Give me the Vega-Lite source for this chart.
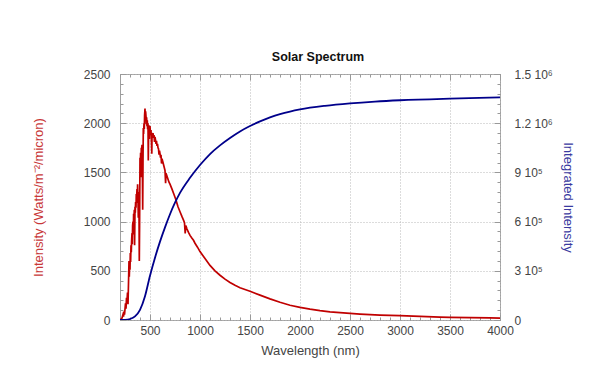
{
  "$schema": "https://vega.github.io/schema/vega-lite/v6.json",
  "autosize": {"type": "none"},
  "padding": {"left": 120, "top": 74, "right": 100, "bottom": 50},
  "width": 380,
  "height": 246,
  "background": "white",
  "title": {"text": "Solar Spectrum", "font": "Liberation Sans", "fontSize": 12.5, "fontWeight": "bold", "color": "#111111", "baseline": "bottom", "offset": -8, "dx": 8},
  "datasets": {
    "red": [
      {"nm":200,"intensity":0},{"nm":210,"intensity":8},{"nm":220,"intensity":20},{"nm":230,"intensity":55},{"nm":235,"intensity":35},{"nm":240,"intensity":85},{"nm":245,"intensity":55},{"nm":250,"intensity":110},{"nm":255,"intensity":170},{"nm":260,"intensity":115},{"nm":265,"intensity":225},{"nm":270,"intensity":190},{"nm":275,"intensity":280},{"nm":280,"intensity":160},{"nm":285,"intensity":370},{"nm":290,"intensity":600},{"nm":293,"intensity":440},{"nm":296,"intensity":560},{"nm":300,"intensity":510},{"nm":303,"intensity":680},{"nm":306,"intensity":590},{"nm":310,"intensity":760},{"nm":313,"intensity":690},{"nm":316,"intensity":800},{"nm":320,"intensity":880},{"nm":323,"intensity":770},{"nm":326,"intensity":960},{"nm":330,"intensity":1000},{"nm":333,"intensity":870},{"nm":336,"intensity":1080},{"nm":340,"intensity":1040},{"nm":343,"intensity":1120},{"nm":346,"intensity":760},{"nm":350,"intensity":1150},{"nm":353,"intensity":1090},{"nm":356,"intensity":1200},{"nm":360,"intensity":1140},{"nm":363,"intensity":1280},{"nm":366,"intensity":1230},{"nm":370,"intensity":1330},{"nm":373,"intensity":1190},{"nm":376,"intensity":1380},{"nm":380,"intensity":1240},{"nm":383,"intensity":1040},{"nm":386,"intensity":1300},{"nm":390,"intensity":1140},{"nm":393,"intensity":600},{"nm":396,"intensity":980},{"nm":400,"intensity":1650},{"nm":403,"intensity":1540},{"nm":406,"intensity":1700},{"nm":410,"intensity":1450},{"nm":413,"intensity":1750},{"nm":416,"intensity":1690},{"nm":420,"intensity":1780},{"nm":423,"intensity":1640},{"nm":427,"intensity":1120},{"nm":430,"intensity":1600},{"nm":433,"intensity":1950},{"nm":436,"intensity":1890},{"nm":440,"intensity":2000},{"nm":443,"intensity":1940},{"nm":446,"intensity":2080},{"nm":450,"intensity":2150},{"nm":453,"intensity":2040},{"nm":456,"intensity":2120},{"nm":460,"intensity":2070},{"nm":463,"intensity":1990},{"nm":466,"intensity":2060},{"nm":470,"intensity":1970},{"nm":473,"intensity":2030},{"nm":476,"intensity":1940},{"nm":480,"intensity":2000},{"nm":483,"intensity":1620},{"nm":486,"intensity":1900},{"nm":490,"intensity":1980},{"nm":493,"intensity":1840},{"nm":496,"intensity":1950},{"nm":500,"intensity":1970},{"nm":505,"intensity":1880},{"nm":510,"intensity":1930},{"nm":515,"intensity":1800},{"nm":518,"intensity":1690},{"nm":520,"intensity":1860},{"nm":525,"intensity":1880},{"nm":530,"intensity":1900},{"nm":535,"intensity":1850},{"nm":540,"intensity":1880},{"nm":545,"intensity":1810},{"nm":550,"intensity":1860},{"nm":555,"intensity":1830},{"nm":560,"intensity":1790},{"nm":565,"intensity":1820},{"nm":570,"intensity":1770},{"nm":575,"intensity":1790},{"nm":580,"intensity":1750},{"nm":585,"intensity":1740},{"nm":590,"intensity":1680},{"nm":595,"intensity":1720},{"nm":600,"intensity":1690},{"nm":605,"intensity":1650},{"nm":610,"intensity":1680},{"nm":615,"intensity":1590},{"nm":620,"intensity":1640},{"nm":630,"intensity":1600},{"nm":640,"intensity":1560},{"nm":650,"intensity":1520},{"nm":656,"intensity":1390},{"nm":660,"intensity":1490},{"nm":670,"intensity":1460},{"nm":680,"intensity":1430},{"nm":690,"intensity":1400},{"nm":700,"intensity":1380},{"nm":720,"intensity":1330},{"nm":740,"intensity":1275},{"nm":760,"intensity":1220},{"nm":767,"intensity":1195},{"nm":780,"intensity":1150},{"nm":800,"intensity":1100},{"nm":820,"intensity":1050},{"nm":835,"intensity":1015},{"nm":845,"intensity":990},{"nm":852,"intensity":880},{"nm":858,"intensity":960},{"nm":870,"intensity":925},{"nm":885,"intensity":890},{"nm":900,"intensity":860},{"nm":920,"intensity":830},{"nm":935,"intensity":810},{"nm":950,"intensity":780},{"nm":975,"intensity":740},{"nm":1000,"intensity":695},{"nm":1050,"intensity":625},{"nm":1100,"intensity":555},{"nm":1150,"intensity":500},{"nm":1200,"intensity":455},{"nm":1250,"intensity":415},{"nm":1300,"intensity":381},{"nm":1350,"intensity":352},{"nm":1400,"intensity":328},{"nm":1450,"intensity":310},{"nm":1500,"intensity":292},{"nm":1600,"intensity":253},{"nm":1700,"intensity":215},{"nm":1800,"intensity":180},{"nm":1900,"intensity":150},{"nm":2000,"intensity":128},{"nm":2100,"intensity":110},{"nm":2200,"intensity":95},{"nm":2300,"intensity":83},{"nm":2400,"intensity":74},{"nm":2500,"intensity":67},{"nm":2600,"intensity":60},{"nm":2700,"intensity":55},{"nm":2800,"intensity":50},{"nm":2900,"intensity":47},{"nm":3000,"intensity":44},{"nm":3200,"intensity":37},{"nm":3400,"intensity":30},{"nm":3500,"intensity":27},{"nm":3700,"intensity":24},{"nm":3900,"intensity":21},{"nm":4000,"intensity":20}
    ],
    "blue": [
      {"nm":200,"integrated":0},{"nm":250,"integrated":1000},{"nm":300,"integrated":6000},{"nm":350,"integrated":22000},{"nm":400,"integrated":62000},{"nm":450,"integrated":145000},{"nm":500,"integrated":270000},{"nm":550,"integrated":380000},{"nm":600,"integrated":478000},{"nm":650,"integrated":565000},{"nm":700,"integrated":645000},{"nm":750,"integrated":715000},{"nm":800,"integrated":775000},{"nm":900,"integrated":867000},{"nm":1000,"integrated":945000},{"nm":1100,"integrated":1012000},{"nm":1200,"integrated":1065000},{"nm":1300,"integrated":1110000},{"nm":1400,"integrated":1150000},{"nm":1500,"integrated":1183000},{"nm":1600,"integrated":1211000},{"nm":1700,"integrated":1235000},{"nm":1800,"integrated":1255000},{"nm":1900,"integrated":1271000},{"nm":2000,"integrated":1284000},{"nm":2250,"integrated":1306000},{"nm":2500,"integrated":1321000},{"nm":2750,"integrated":1332000},{"nm":3000,"integrated":1340000},{"nm":3500,"integrated":1350000},{"nm":4000,"integrated":1357000}
    ]
  },
  "config": {
    "view": {"stroke": "#a0a0a0", "strokeWidth": 1},
    "axis": {
      "labelFont": "Liberation Sans",
      "titleFont": "Liberation Sans",
      "labelFontSize": 12,
      "titleFontSize": 13,
      "titleFontWeight": "normal",
      "labelColor": "#444444",
      "titleColor": "#444444",
      "tickColor": "#999999",
      "domain": false,
      "labelFlush": false,
      "gridColor": "#b8b8b8",
      "gridDash": [1, 2],
      "gridWidth": 1
    }
  },
  "resolve": {
    "scale": {"x": "independent", "y": "independent"},
    "axis": {"x": "independent", "y": "independent"}
  },
  "layer": [
    {
      "data": {"name": "red"},
      "mark": {"type": "line", "color": "#c00000", "strokeWidth": 1.7, "clip": true},
      "encoding": {
        "x": {"field": "nm", "type": "quantitative",
          "scale": {"domain": [200, 4000], "nice": false, "zero": false},
          "axis": {"orient": "bottom", "values": [500,1000,1500,2000,2500,3000,3500,4000], "format": "d", "labelFlush": false, "title": "Wavelength (nm)", "grid": true, "tickSize": -6, "labelPadding": 11, "titlePadding": 8}},
        "y": {"field": "intensity", "type": "quantitative",
          "scale": {"domain": [0, 2500], "nice": false},
          "axis": {"orient": "left", "values": [0,500,1000,1500,2000,2500], "format": "d", "title": "Intensity (Watts/m⁻²/micron)", "titleColor": "#c83838", "grid": true, "tickSize": -6, "labelPadding": 16, "titlePadding": 38}}
      }
    },
    {
      "data": {"name": "red"},
      "mark": {"type": "line", "opacity": 0},
      "encoding": {
        "x": {"field": "nm", "type": "quantitative",
          "scale": {"domain": [200, 4000], "nice": false, "zero": false},
          "axis": {"orient": "bottom", "values": [200,300,400,500,600,700,800,900,1000,1100,1200,1300,1400,1500,1600,1700,1800,1900,2000,2100,2200,2300,2400,2500,2600,2700,2800,2900,3000,3100,3200,3300,3400,3500,3600,3700,3800,3900,4000], "labels": false, "title": null, "grid": false, "tickSize": -3}},
        "y": {"field": "intensity", "type": "quantitative",
          "scale": {"domain": [0, 2500], "nice": false},
          "axis": {"orient": "left", "values": [0,100,200,300,400,500,600,700,800,900,1000,1100,1200,1300,1400,1500,1600,1700,1800,1900,2000,2100,2200,2300,2400,2500], "labels": false, "title": null, "grid": false, "tickSize": -3}}
      }
    },
    {
      "data": {"name": "blue"},
      "mark": {"type": "line", "color": "#00008b", "strokeWidth": 1.8, "interpolate": "monotone", "clip": true},
      "encoding": {
        "x": {"field": "nm", "type": "quantitative",
          "scale": {"domain": [200, 4000], "nice": false, "zero": false},
          "axis": {"orient": "top", "values": [500,1000,1500,2000,2500,3000,3500,4000], "labels": false, "title": null, "grid": false, "tickSize": -6}},
        "y": {"field": "integrated", "type": "quantitative",
          "scale": {"domain": [0, 1500000], "nice": false},
          "axis": {"orient": "right", "values": [0,300000,600000,900000,1200000,1500000], "labelExpr": "datum.value == 0 ? '0' : (datum.value < 1000000 ? format(datum.value/100000, 'd') + ' 10⁵' : format(datum.value/1000000, '.1f') + ' 10⁶')", "title": "Integrated Intensity", "titleColor": "#3a3aa0", "grid": false, "tickSize": -6, "labelPadding": 20, "titlePadding": 8}}
      }
    },
    {
      "data": {"name": "blue"},
      "mark": {"type": "line", "opacity": 0},
      "encoding": {
        "x": {"field": "nm", "type": "quantitative",
          "scale": {"domain": [200, 4000], "nice": false, "zero": false},
          "axis": {"orient": "top", "values": [200,300,400,500,600,700,800,900,1000,1100,1200,1300,1400,1500,1600,1700,1800,1900,2000,2100,2200,2300,2400,2500,2600,2700,2800,2900,3000,3100,3200,3300,3400,3500,3600,3700,3800,3900,4000], "labels": false, "title": null, "grid": false, "tickSize": -3}},
        "y": {"field": "integrated", "type": "quantitative",
          "scale": {"domain": [0, 1500000], "nice": false},
          "axis": {"orient": "right", "values": [0,60000,120000,180000,240000,300000,360000,420000,480000,540000,600000,660000,720000,780000,840000,900000,960000,1020000,1080000,1140000,1200000,1260000,1320000,1380000,1440000,1500000], "labels": false, "title": null, "grid": false, "tickSize": -3}}
      }
    }
  ]
}
